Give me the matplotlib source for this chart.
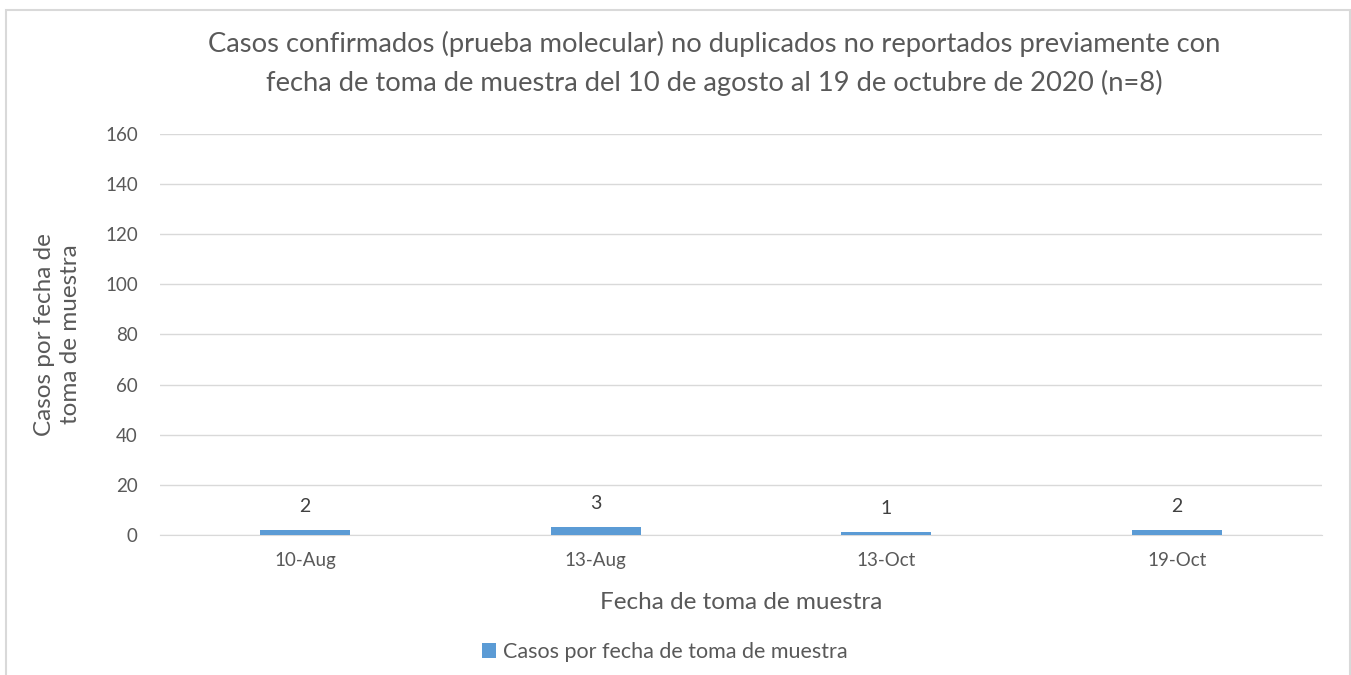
import matplotlib.pyplot as plt
from matplotlib.patches import Rectangle
import numpy as np

# Datos
fechas = ["10-Aug", "13-Aug", "13-Oct", "19-Oct"]
casos = [2, 3, 1, 2]

plt.rcParams['font.family'] = ['Lato', 'DejaVu Sans']
gris = '#595959'

fig = plt.figure(figsize=(13.51, 6.75), dpi=100)
ax = fig.add_axes([0.1184, 0.2074, 0.8601, 0.5941])

x = np.arange(len(fechas))
barras = ax.bar(x, casos, width=0.31, color='#5b9bd5', zorder=3,
                label='Casos por fecha de toma de muestra')
for xi, v in zip(x, casos):
    ax.annotate(str(v), (xi, v), xytext=(0, 17), textcoords='offset points',
                ha='center', va='center', fontsize=14, color='#404040')

ax.set_xlim(-0.5, len(fechas) - 0.5)
ax.set_ylim(0, 160)
ax.set_yticks(range(0, 161, 20))
ax.set_xticks(x)
ax.set_xticklabels(fechas)
ax.tick_params(axis='both', length=0, labelsize=13.5, colors=gris)
ax.tick_params(axis='x', pad=12)
ax.tick_params(axis='y', pad=16)
ax.grid(axis='y', color='#d9d9d9', linewidth=1, zorder=0)
for s in ['top', 'right', 'left']:
    ax.spines[s].set_visible(False)
ax.spines['bottom'].set_color('#d9d9d9')

ax.set_xlabel('Fecha de toma de muestra', fontsize=17.5, color=gris, labelpad=17)
ax.set_ylabel('Casos por fecha de\ntoma de muestra', fontsize=17.5, color=gris,
              labelpad=17, linespacing=1.3)

fig.text(0.5285, 0.906,
         'Casos confirmados (prueba molecular) no duplicados no reportados previamente con\n'
         'fecha de toma de muestra del 10 de agosto al 19 de octubre de 2020 (n=8)',
         ha='center', va='center', fontsize=19.7, color=gris, linespacing=1.6)

fig.legend(handles=[barras], loc='center', bbox_to_anchor=(0.492, 0.034),
           frameon=False, fontsize=15.5, labelcolor=gris,
           handlelength=0.65, handleheight=0.65, handletextpad=0.3)

fig.patches.append(Rectangle((6 / 1351, -0.05), 1344 / 1351, 1.05 - 10 / 675,
                             transform=fig.transFigure, fill=False,
                             edgecolor='#d9d9d9', linewidth=1.5))

fig.savefig('out.png', dpi=100, facecolor='white')
